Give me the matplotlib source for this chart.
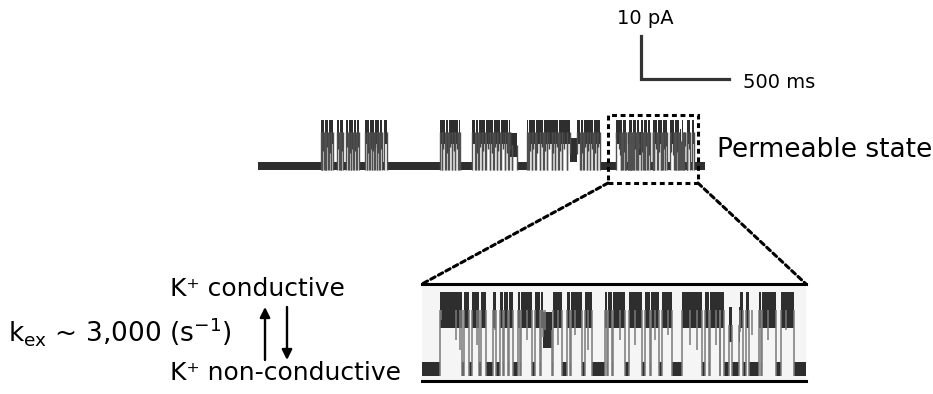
import numpy as np
import matplotlib.pyplot as plt
from matplotlib.patches import Rectangle, ConnectionPatch, FancyArrowPatch

W, H = 933, 394

# trace values: time in ms, current in pA
total_ms = 2540
open_pA = 8.0

bursts = [(358, 733), (1034, 1148), (1216, 1471), (1528, 1943)]
burst_closures = [
    (362, 365), (375, 378), (386, 389), (399, 402), (413, 416), (426, 449),
    (462, 465), (470, 473), (483, 500), (513, 516), (527, 530), (541, 544),
    (557, 560), (574, 608), (618, 621), (632, 635), (646, 649), (659, 662),
    (674, 677), (688, 691), (705, 716),
    (1044, 1047), (1063, 1066), (1082, 1085), (1101, 1104), (1119, 1122), (1138, 1141),
    (1233, 1236), (1252, 1255), (1271, 1274), (1290, 1293), (1318, 1321), (1337, 1340),
    (1356, 1359), (1375, 1378), (1403, 1406), (1422, 1425), (1441, 1444),
    (1536, 1539), (1555, 1558), (1574, 1577), (1602, 1605), (1621, 1624), (1640, 1643),
    (1668, 1671), (1687, 1690), (1706, 1709), (1725, 1728), (1754, 1757), (1830, 1833),
    (1849, 1852), (1868, 1871), (1886, 1889), (1905, 1908), (1924, 1927),
]
burst_sublevels = [(1432, 1471, 4.9), (1774, 1812, 3.8)]
burst_flicker_t = [370, 392, 407, 456, 478, 508, 521, 535, 550, 566, 626, 640, 653, 667, 681, 697,
                   1053, 1073, 1092, 1111, 1129, 1243, 1262, 1281, 1305, 1328, 1347, 1366, 1390,
                   1413, 1432, 1546, 1565, 1588, 1612, 1631, 1655, 1678, 1697, 1716, 1740,
                   1840, 1858, 1877, 1896, 1915, 1934]
burst_flicker_pA = [3.5, 4.5, 3.0, 4.0, 3.5, 4.5, 3.0, 4.0, 3.5, 4.5, 3.0, 4.0, 3.5, 4.5, 3.0, 4.0,
                    4.0, 3.0, 4.5, 3.5, 4.0, 3.0, 4.5, 3.5, 4.0, 3.0, 4.5, 3.5, 4.0,
                    3.0, 4.5, 3.5, 4.0, 3.0, 4.5, 3.5, 4.0, 3.0, 4.5, 3.5, 4.0,
                    3.0, 4.5, 3.5, 4.0, 3.0, 4.5]

# expanded window (permeable state)
zoom_start = 2011
zoom_len = 484
zoom_closures = [
    (0, 23), (50, 53), (59, 63), (72, 74), (81, 90), (93, 98), (102, 103),
    (108, 110), (115, 121), (124, 125), (139, 142), (149, 150), (164, 165),
    (177, 183), (187, 188), (202, 206), (214, 231), (233, 235), (240, 241),
    (256, 261), (277, 281), (287, 289), (299, 303), (315, 328), (353, 357),
    (362, 363), (375, 376), (381, 387), (391, 400), (404, 409), (412, 425),
    (427, 429), (446, 453), (469, 484),
]
zoom_sublevels = [(153, 164, 5.3), (386, 401, 6.0)]
flicker_t = [24, 43, 48, 69, 92, 132, 155, 171, 193, 209,
             250, 269, 294, 310, 338, 347, 371, 416, 436, 459]
flicker_pA = [6.6, 3.9, 2.6, 3.3, 5.3, 3.9, 5.3, 3.3, 4.6, 2.6,
              3.9, 3.3, 3.9, 4.6, 3.3, 2.6, 3.3, 4.6, 3.9, 5.3]

bar_pA = 10
bar_ms = 500


def build_trace(t_end, opens, closures, sublevels):
    pts = {0, t_end}
    for a, b in opens + closures:
        pts.update([a, b])
    for a, b, v in sublevels:
        pts.update([a, b])
    edges = np.array(sorted(p for p in pts if 0 <= p <= t_end), dtype=float)
    mids = (edges[:-1] + edges[1:]) / 2
    lvl = np.zeros(len(mids))
    for a, b in opens:
        lvl[(mids > a) & (mids < b)] = open_pA
    for a, b, v in sublevels:
        lvl[(mids > a) & (mids < b) & (lvl > 0)] = v
    for a, b in closures:
        lvl[(mids > a) & (mids < b)] = 0
    return edges, lvl


def draw_trace(ax, edges, lvl, hw_open, hw_closed, vlw, vcol):
    hw = np.where(lvl > 0, hw_open, hw_closed)
    lo = np.append(lvl - hw, lvl[-1] - hw[-1])
    hi = np.append(lvl + hw, lvl[-1] + hw[-1])
    ax.fill_between(edges, lo, hi, step='post', color='#2e2e2e', lw=0)
    ch = np.nonzero(np.diff(lvl))[0]
    xs = edges[ch + 1]
    ax.vlines(xs, np.minimum(lvl[ch], lvl[ch + 1]) - hw_closed,
              np.maximum(lvl[ch], lvl[ch + 1]), color=vcol, lw=vlw)


def frac(x0, y0, x1, y1):
    return [x0 / W, 1 - y1 / H, (x1 - x0) / W, (y1 - y0) / H]


fig = plt.figure(figsize=(W / 100, H / 100), dpi=100)

# full trace
ax = fig.add_axes(frac(258, 110, 705, 180))
ax.set_xlim(0, total_ms)
ax.set_ylim(-3.29, 13.18)
ax.axis('off')

main_open = bursts + [(zoom_start, zoom_start + zoom_len)]
main_close = burst_closures + [(a + zoom_start, b + zoom_start) for a, b in zoom_closures]
main_sub = burst_sublevels + [(a + zoom_start, b + zoom_start, v) for a, b, v in zoom_sublevels]
e, l = build_trace(total_ms, main_open, main_close, main_sub)
draw_trace(ax, e, l, 2.8, 1.0, 1.0, '#505050')
ax.vlines(burst_flicker_t, burst_flicker_pA, open_pA, color='#444444', lw=1.0)
ax.vlines(np.array(flicker_t) + zoom_start, np.array(flicker_pA), open_pA,
          color='#444444', lw=0.9)

# scale bar
bx, by = 2176, 20.5
ax.plot([bx, bx, bx + bar_ms], [by + bar_pA, by, by], color='#333333', lw=2.3,
        solid_joinstyle='miter', clip_on=False)
fig.text(617 / W, 1 - 19 / H, f"{bar_pA} pA", fontsize=14, va='center', ha='left')
fig.text(743 / W, 1 - 82 / H, f"{bar_ms} ms", fontsize=14, va='center', ha='left')

# dotted box around the window
box = Rectangle((1989, -4), 511, 16, fill=False, ec='black', lw=2.2,
                ls=(0, (1.6, 1.2)), clip_on=False)
ax.add_patch(box)
fig.text(717 / W, 1 - 150 / H, "Permeable state", fontsize=19, va='center', ha='left')

# expanded trace
az = fig.add_axes(frac(422, 284, 806, 381))
az.set_xlim(0, zoom_len)
az.set_ylim(-1.63, 11.53)
az.set_facecolor('#f5f5f5')
az.set_xticks([])
az.set_yticks([])
for s in ('left', 'right'):
    az.spines[s].set_visible(False)
for s in ('top', 'bottom'):
    az.spines[s].set_linewidth(2.2)
e, l = build_trace(zoom_len, [(0, zoom_len)], zoom_closures, zoom_sublevels)
draw_trace(az, e, l, 2.4, 1.0, 1.1, '#7a7a7a')
az.vlines(flicker_t, flicker_pA, open_pA, color='#7a7a7a', lw=1.1)

for xa, xb in ((1989, 0), (2500, 1)):
    con = ConnectionPatch(xyA=(xa, -4), coordsA=ax.transData,
                          xyB=(xb, 1), coordsB=az.transAxes,
                          color='black', lw=2.2, ls=(0, (1.6, 1.2)))
    fig.add_artist(con)

# scheme on the left
fig.text(170 / W, 1 - 289 / H, "K\u207a conductive", fontsize=18, va='center', ha='left')
fig.text(170 / W, 1 - 373 / H, "K\u207a non-conductive", fontsize=18, va='center', ha='left')
fig.text(8 / W, 1 - 332 / H, r"k$_{\mathrm{ex}}$ ~ 3,000 (s$^{\mathrm{-1}}$)",
         fontsize=19, va='center', ha='left')
for y0, y1, x in ((360, 307, 265), (307, 360, 287)):
    fig.add_artist(FancyArrowPatch(
        (x / W, 1 - y0 / H), (x / W, 1 - y1 / H), transform=fig.transFigure,
        arrowstyle='-|>,head_length=6,head_width=3', lw=1.7, color='black',
        mutation_scale=1, shrinkA=0, shrinkB=0))

fig.savefig('out.png', dpi=100)
